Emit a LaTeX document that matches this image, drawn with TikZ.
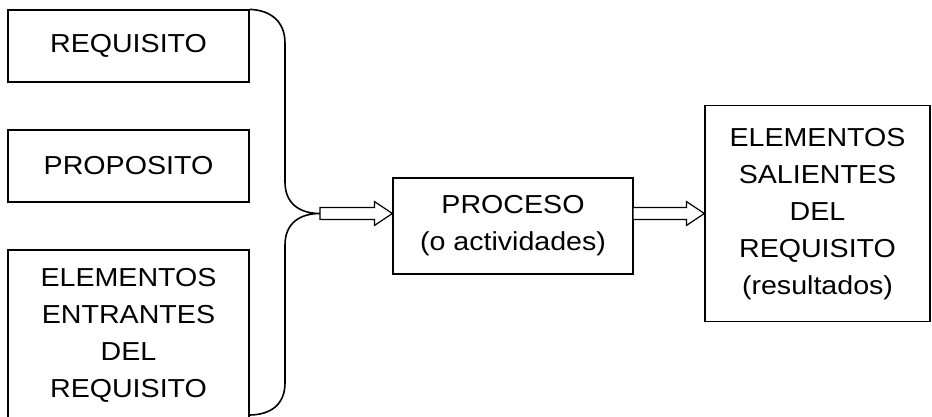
\documentclass[tikz,border=0pt]{standalone}
\usepackage{fontspec}
\setmainfont[FakeStretch=1.1]{Liberation Sans}
\usetikzlibrary{calc}
\begin{document}
\begin{tikzpicture}[x=1pt,y=1pt,
  box/.style={draw=black, line width=1.2pt, rectangle, inner sep=0pt, align=center,
    font=\fontsize{26}{37}\selectfont},
  bracepath/.style={draw=black, line width=1.6pt},
  blockarrow/.style={draw=black, line width=1.2pt, fill=white, line join=miter}]
\useasboundingbox (0,0) rectangle (932,416);
% input boxes
\node[box, minimum width=241pt, minimum height=72pt] (req) at (128.5,370) {REQUISITO};
\node[box, minimum width=241pt, minimum height=72pt] (prop) at (128.5,250) {PROPOSITO};
\node[box, minimum width=241pt, minimum height=170pt] (ent) at (128.5,81) {ELEMENTOS\\ENTRANTES\\DEL\\REQUISITO};
% process and output
\node[box, minimum width=240pt, minimum height=96pt] (proc) at (513,190) {PROCESO\\(o actividades)};
\node[box, minimum width=225pt, minimum height=216pt] (out) at (817.5,202.3) {ELEMENTOS\\SALIENTES\\DEL\\REQUISITO\\(resultados)};
% brace
\coordinate (tip) at (320,202.5);
\draw[bracepath] (req.north east) .. controls (270,406) and (285,395) .. (285,373)
  -- (285,234) .. controls (285,212) and (300,202.5) .. (tip)
  .. controls (300,202.5) and (285,193) .. (285,171)
  -- (285,33) .. controls (285,11) and (270,1) .. (249,1);
% block arrows
\draw[blockarrow] let \p1=(tip), \p2=(proc.west) in
  (\x1,\y1+6) -- (\x2-18,\y1+6) -- (\x2-18,\y1+12) -- (\x2,\y1) -- (\x2-18,\y1-12)
  -- (\x2-18,\y1-6) -- (\x1,\y1-6) -- cycle;
\draw[blockarrow] let \p1=(proc.east), \p2=(out.west), \p3=(tip) in
  (\x1,\y3+6) -- (\x2-18,\y3+6) -- (\x2-18,\y3+12) -- (\x2,\y3) -- (\x2-18,\y3-12)
  -- (\x2-18,\y3-6) -- (\x1,\y3-6);
\end{tikzpicture}
\end{document}
